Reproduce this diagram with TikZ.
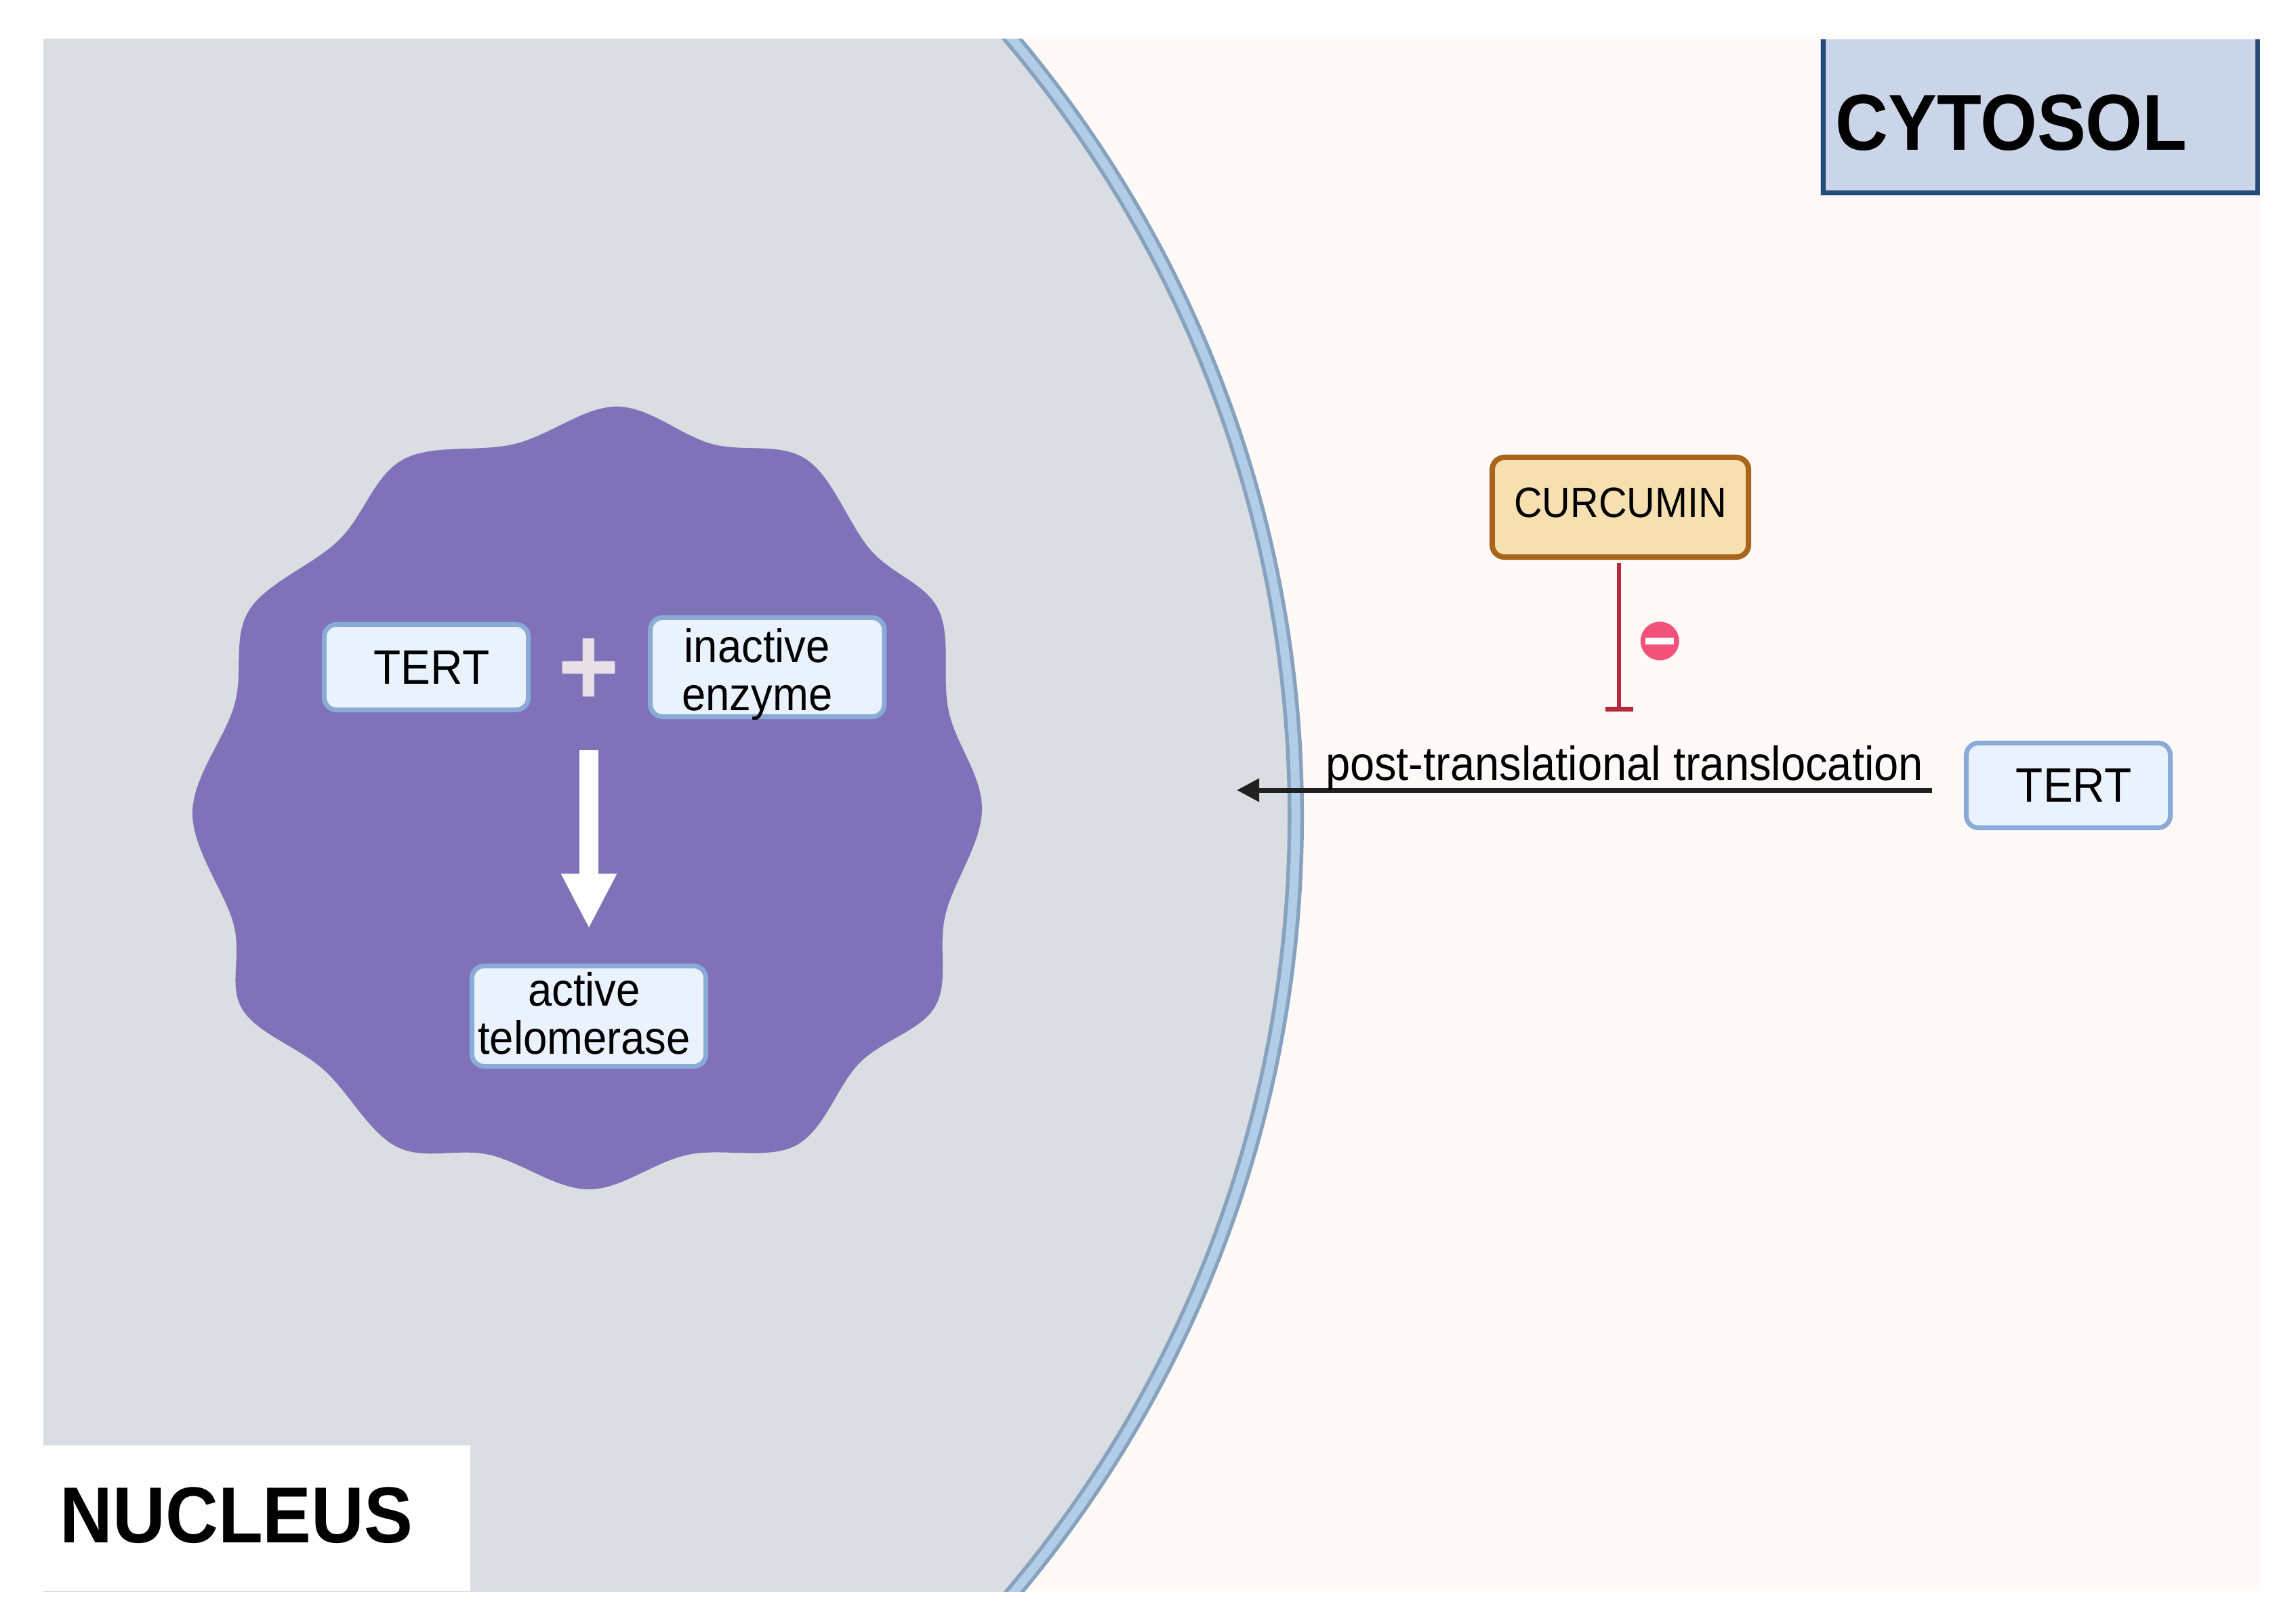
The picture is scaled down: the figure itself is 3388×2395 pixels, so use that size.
\documentclass[tikz,border=0pt]{standalone}
\usepackage{fontspec}
\setmainfont[FakeStretch=0.92]{Liberation Sans}
\usetikzlibrary{positioning,arrows.meta}
\definecolor{cytobg}{HTML}{FFF9F8}
\definecolor{nucbg}{HTML}{DADDE1}
\definecolor{memdark}{HTML}{86A2BE}
\definecolor{memlight}{HTML}{B4CDE6}
\definecolor{blobfill}{HTML}{8072B8}
\definecolor{tagfill}{HTML}{CBD5E8}
\definecolor{tagline}{HTML}{264A7A}
\definecolor{protfill}{HTML}{EAF3FD}
\definecolor{protline}{HTML}{8AABD8}
\definecolor{drugfill}{HTML}{F6E0B0}
\definecolor{drugline}{HTML}{A8661C}
\definecolor{inhibred}{HTML}{B8283C}
\definecolor{minusred}{HTML}{F2527A}
\definecolor{plusgrey}{HTML}{E8E0E4}

\begin{document}
\begin{tikzpicture}[x=0.01cm,y=-0.01cm]
  \tikzstyle{prot}=[draw=protline,fill=protfill,line width=0.07cm,rounded corners=0.18cm,outer sep=0pt,inner sep=0pt,align=center,font=\fontsize{19.6pt}{20.2pt}\selectfont]
  \tikzstyle{region}=[inner sep=0pt,anchor=base west,font=\fontsize{33.3pt}{36pt}\selectfont\bfseries]
  \fill[white] (0,0) rectangle (3388,2395);
  \useasboundingbox (0,0) rectangle (3388,2395);
  \fill[cytobg] (64,58) rectangle (3334,2348);
  \begin{scope}
    \clip (64,58) rectangle (3334,2348);
    \fill[nucbg] (130,1205) circle[radius=17.81cm];
    \draw[memdark,line width=0.24cm] (130,1205) circle[radius=17.81cm];
    \draw[memlight,line width=0.13cm] (130,1205) circle[radius=17.81cm];
  \end{scope}
  \fill[white] (64,2133) rectangle (694,2348);
  \fill[tagfill] (2686,58) rectangle (3335,289);
  \draw[tagline,line width=0.07cm] (2690,58) -- (2690,285) -- (3331,285) -- (3331,58);
  \node[region] (cyto) at (2708,222) {CYTOSOL};
  \node[region] (nuc) at (88,2276) {NUCLEUS};
  \fill[blobfill] plot[smooth cycle,tension=0.6] coordinates {
    (284,1200) (346,1040) (368,900) (500,797) (595,678) (760,655)
    (910,600) (1050,655) (1190,678) (1285,812) (1385,900) (1400,1050)
    (1449,1195) (1395,1350) (1380,1485) (1269,1568) (1175,1690) (1015,1704)
    (869,1755) (722,1704) (585,1692) (477,1578) (358,1490) (345,1365)};
  \node[prot,minimum width=3.01cm,minimum height=1.26cm,font=\fontsize{20.3pt}{22pt}\selectfont] (tertin) at (629,984.5) {\hspace*{0.16cm}TERT};
  \node[prot,minimum width=3.45cm,minimum height=1.46cm,text height=1.3cm,text depth=0.02cm,right=1.8cm of tertin] (inact) {\hspace*{-0.3cm}inactive\\\hspace*{-0.3cm}enzyme};
  \node[inner sep=0pt,text=plusgrey,font=\fontsize{48pt}{50pt}\selectfont\bfseries] (plus) at (869,992.5) {+};
  \node[prot,minimum width=3.45cm,minimum height=1.48cm,text depth=0.09cm] (act) at (869,1499.5) {\hspace*{-0.14cm}active\\\hspace*{-0.14cm}telomerase};
  \draw[white,line width=0.28cm,-{Triangle[width=0.76cm,length=0.81cm]},shorten <=1.14cm,shorten >=0.55cm] (plus.center) -- (act.north);
  \node[draw=drugline,fill=drugfill,line width=0.08cm,rounded corners=0.18cm,outer sep=0pt,inner sep=0pt,minimum width=3.78cm,minimum height=1.47cm,text depth=0.14cm,font=\fontsize{17.8pt}{20pt}\selectfont] (curc) at (2391,748.5) {CURCUMIN};
  \coordinate (block) at (2389,1050);
  \draw[inhibred,line width=0.055cm,-{Bar[width=0.41cm,line width=0.07cm]},shorten <=0.085cm] (curc.south -| block) -- (block);
  \node[circle,fill=minusred,minimum size=0.57cm,inner sep=0pt,right=0.31cm of block,yshift=1.04cm] (minus) {};
  \draw[white,line width=0.1cm] ([xshift=-0.21cm]minus.center) -- ([xshift=0.21cm]minus.center);
  \node[prot,minimum width=3.01cm,minimum height=1.25cm,font=\fontsize{20.3pt}{22pt}\selectfont] (tertout) at (3052,1159) {\hspace*{0.16cm}TERT};
  \coordinate (entry) at (1825,1166);
  \draw[black!87,line width=0.07cm,-{Triangle[width=0.33cm,length=0.33cm]},shorten <=0.5cm] (tertout.west |- entry) -- (entry);
  \node[inner sep=0pt,anchor=base,font=\fontsize{20.1pt}{22pt}\selectfont] (transl) at (2397,1151) {post-translational translocation};
\end{tikzpicture}
\end{document}
